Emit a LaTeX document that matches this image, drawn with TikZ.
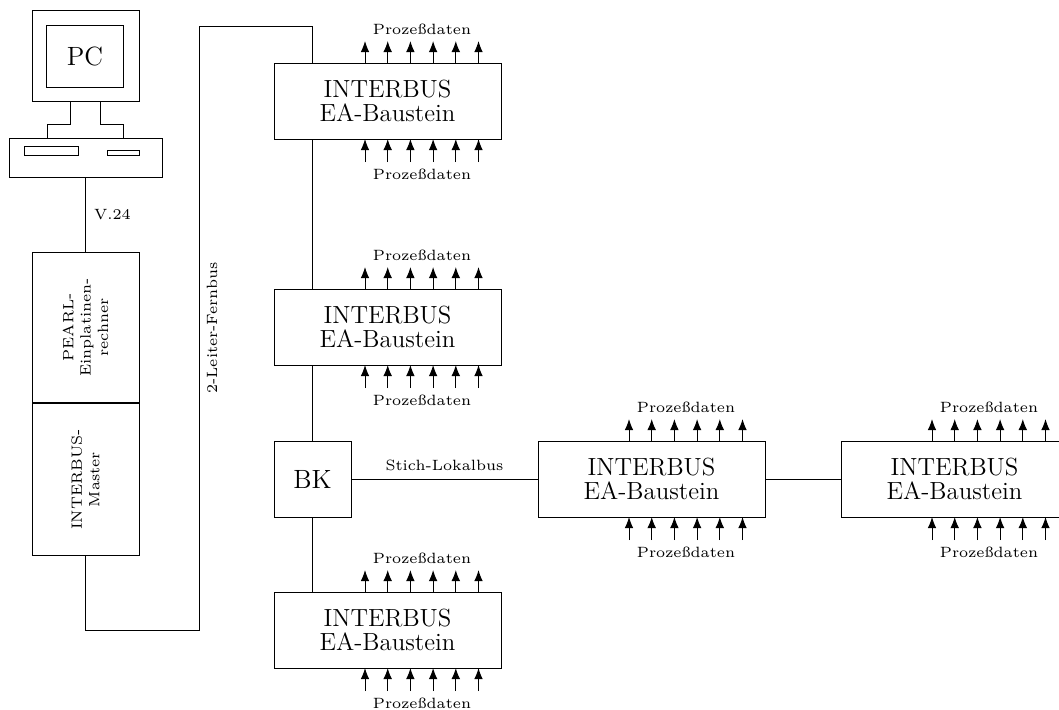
\documentclass[tikz,border=0pt]{standalone}
\usetikzlibrary{arrows.meta,calc}
\newcommand{\smalltext}{\fontsize{6}{7}\selectfont}
\tikzset{
  x=0.5pt,y=-0.5pt,
  ln/.style={line width=0.5pt,line join=miter},
  plainbox/.style={draw,line width=0.5pt,inner sep=0pt,outer sep=0pt,anchor=north west},
  bigtext/.style={font=\fontsize{13.2}{15}\selectfont},
  iobox/.style={plainbox,minimum width=113.5pt,minimum height=38pt,align=center,font=\fontsize{12.4}{13}\selectfont},
  lab/.style={inner sep=0pt,scale=1.24,font=\smalltext,align=center},
  io/.style={-{Latex[length=5.5pt,width=4.3pt]},line width=0.5pt},
}
\newcommand{\iounit}[3]{%
  \node[iobox] (#1) at (#2,#3) {INTERBUS\\[-1pt]EA-Baustein};
  \foreach \i in {0,1,2,3,4,5}{
    \coordinate (#1t\i) at ($(#1.north west)+(91+22.7*\i,-22)$);
    \coordinate (#1s\i) at ($(#1.north west)+(91+22.7*\i,0)$);
    \coordinate (#1b\i) at ($(#1.south west)+(91+22.7*\i,0)$);
    \coordinate (#1c\i) at ($(#1.south west)+(91+22.7*\i,23)$);
    \draw[io] (#1s\i) -- (#1t\i);
    \draw[io] (#1c\i) -- (#1b\i);
  }
  \node[lab] (#1la) at ($(#1.north west)+(148,-34)$) {Prozeßdaten};
  \node[lab] (#1lb) at ($(#1.south west)+(148,35)$) {Prozeßdaten};
}
\begin{document}
\begin{tikzpicture}
\useasboundingbox (0,0) rectangle (1059,709);
\clip (0,0) rectangle (1059,709);
% PC
\node[plainbox,minimum width=53.5pt,minimum height=45.5pt] (mon) at (32,10) {};
\node[plainbox,bigtext,minimum width=38.5pt,minimum height=31pt] (scr) at (46.5,25) {PC};
\node[plainbox,minimum width=76.5pt,minimum height=19.5pt] (base) at (9,138) {};
\node[plainbox,minimum width=27pt,minimum height=4.5pt] (slota) at (24,146) {};
\node[plainbox,minimum width=16pt,minimum height=2.5pt] (slotb) at (107,150) {};
\coordinate (sl) at ($(mon.south west)+(38,0)$);
\coordinate (sr) at ($(mon.south west)+(68,0)$);
\coordinate (bl) at ($(base.north west)+(38,0)$);
\coordinate (br) at ($(base.north west)+(114,0)$);
\draw[ln] (sl) -- ++(0,23) -| (bl);
\draw[ln] (sr) -- ++(0,23) -| (br);
% Computers
\node[plainbox,minimum width=53.5pt,minimum height=75.5pt] (pearl) at (32,252) {};
\node[plainbox,minimum width=53.5pt,minimum height=76pt] (master) at (32,403.5) {};
\draw[line width=1pt] (pearl.south west) -- (pearl.south east);
\node[lab,rotate=90] (pearltxt) at (pearl.center) {PEARL-\\Einplatinen-\\rechner};
\node[lab,rotate=90] (mastertxt) at (master.center) {INTERBUS-\\Master};
\draw[ln] (base.south) -- node[lab,anchor=west,xshift=3.2pt] (v24) {V.24} (pearl.north);
% IO units
\iounit{a}{274}{63}
\iounit{b}{274}{289}
\iounit{c}{274}{592}
\iounit{d}{538}{441}
\iounit{e}{841}{441}
\node[plainbox,bigtext,minimum width=38.5pt,minimum height=38pt] (bk) at (274,441) {BK};
% Bus
\coordinate (bend1) at (85.5,630);
\coordinate (bend2) at (199,630);
\coordinate (bend3) at (199,26);
\coordinate (bend4) at (312.5,26);
\coordinate (aup) at (312.5,63);
\draw[ln] (master.south) -- (bend1) -- (bend2) -- (bend3) -- (bend4) -- (aup);
\node[lab,rotate=90] (fern) at (212,328) {2-Leiter-Fernbus};
\draw[ln] (a.south) ++(-75,0) coordinate (a1) -- (a1 |- b.north);
\draw[ln] (b.south) ++(-75,0) coordinate (b1) -- (b1 |- bk.north);
\draw[ln] (bk.south) -- (bk.south |- c.north);
\draw[ln] (bk.east) -- node[lab,above,yshift=3pt] (stich) {Stich-Lokalbus} (d.west);
\draw[ln] (d.east) -- (e.west);
\end{tikzpicture}
\end{document}
